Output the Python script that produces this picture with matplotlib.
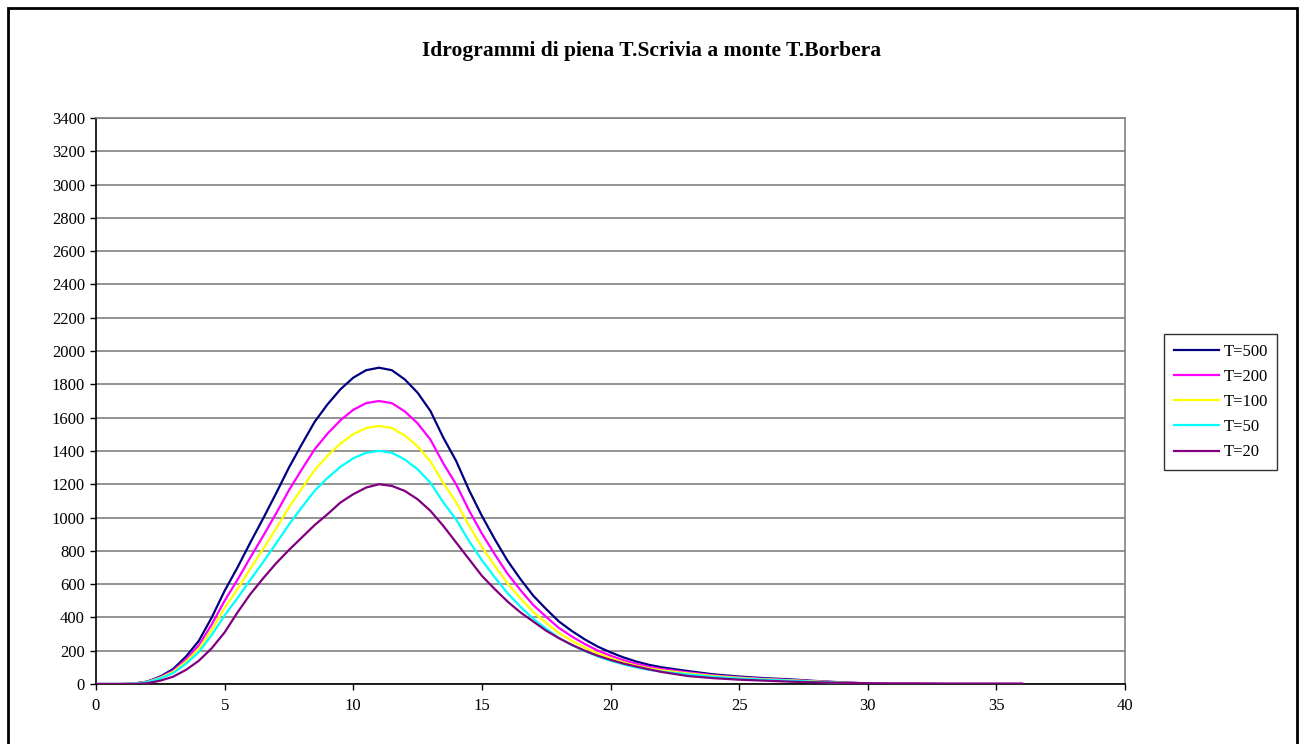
import matplotlib
matplotlib.use("Agg")
import matplotlib.pyplot as plt
from matplotlib.patches import Rectangle

# === DATI ===
# ogni mezz'ora fino a 22 h, poi ogni ora
ORE = [i / 2 for i in range(45)] + [23, 24, 25, 26, 27, 28, 29, 29.7]
ORE_T20 = [i / 2 for i in range(45)] + list(range(23, 37))

Q_T500 = [0, 0, 0, 3, 15, 45, 90, 165, 260, 400, 560, 700, 850, 995, 1145, 1300,
          1440, 1575, 1680, 1770, 1840, 1885, 1900, 1885, 1830, 1750, 1640, 1480,
          1340, 1165, 1010, 870, 740, 630, 530, 450, 375, 318, 268, 225, 190, 160,
          135, 115, 100,
          78, 58, 45, 35, 28, 18, 10, 5]
Q_T200 = [0, 0, 0, 3, 13, 40, 80, 148, 233, 358, 500, 626, 760, 890, 1024, 1164,
          1289, 1410, 1504, 1584, 1647, 1687, 1700, 1687, 1638, 1566, 1468, 1325,
          1199, 1043, 904, 779, 662, 564, 474, 403, 336, 285, 240, 201, 170, 143,
          121, 103, 90,
          70, 52, 40, 31, 24, 16, 9, 5]
Q_T100 = [0, 0, 0, 2, 12, 37, 73, 135, 212, 326, 456, 571, 693, 812, 934, 1061,
          1175, 1285, 1371, 1444, 1501, 1538, 1550, 1538, 1493, 1428, 1338, 1208,
          1093, 951, 824, 710, 604, 514, 432, 367, 306, 259, 219, 184, 155, 131,
          110, 94, 82,
          64, 48, 37, 28, 22, 15, 8, 4]
Q_T50 = [0, 0, 0, 2, 11, 33, 66, 122, 192, 295, 412, 516, 626, 733, 844, 958,
         1061, 1161, 1238, 1304, 1356, 1389, 1400, 1389, 1349, 1290, 1209, 1091,
         988, 859, 744, 641, 545, 464, 391, 332, 276, 234, 198, 166, 140, 118,
         99, 85, 74,
         58, 43, 33, 26, 20, 13, 7, 4]
Q_T20 = [0, 0, 0, 0, 5, 20, 44, 85, 140, 215, 310, 430, 540, 635, 725, 805,
         880, 955, 1020, 1090, 1140, 1180, 1200, 1190, 1160, 1110, 1040, 950,
         850, 750, 650, 570, 495, 430, 375, 320, 275, 235, 200, 170, 145, 123,
         105, 88, 72,
         48, 35, 26, 20, 14, 10, 7, 5, 4, 4, 3, 3, 3, 3]

ETICHETTE = ["T=500", "T=200", "T=100", "T=50", "T=20"]
COLORI = ["#000080", "#FF00FF", "#FFFF00", "#00FFFF", "#800080"]

plt.rcParams['font.family'] = ['Liberation Serif', 'DejaVu Serif']

# === FIGURA ===
fig = plt.figure(figsize=(13.04, 7.44), dpi=100)
ax = fig.add_axes([96 / 1304, 1 - 684 / 744, (1125 - 96) / 1304, (684 - 118) / 744])

serie = [(ORE, Q_T500), (ORE, Q_T200), (ORE, Q_T100), (ORE, Q_T50), (ORE_T20, Q_T20)]
for (x, y), nome, col in zip(serie, ETICHETTE, COLORI):
    ax.plot(x, y, color=col, lw=1.6, label=nome, zorder=3)

ax.set_xlim(0, 40)
ax.set_ylim(0, 3400)
ax.set_xticks(range(0, 41, 5))
ax.set_yticks(range(0, 3401, 200))
ax.yaxis.grid(True, color="#808080", lw=1.2)
ax.set_axisbelow(True)
ax.tick_params(axis="both", direction="out", length=4, width=1, labelsize=12)
ax.tick_params(axis="y", pad=4)
ax.tick_params(axis="x", pad=6)
for s in ["top", "right"]:
    ax.spines[s].set_color("#808080")
    ax.spines[s].set_linewidth(1.2)
for s in ["left", "bottom"]:
    ax.spines[s].set_color("black")
    ax.spines[s].set_linewidth(1.2)

fig.text(0.5, 1 - 51 / 744, "Idrogrammi di piena T.Scrivia a monte T.Borbera",
         ha="center", va="center", fontsize=15.5, fontweight="bold")

leg = ax.legend(loc="center left", bbox_to_anchor=(1156 / 1304, 1 - 402 / 744),
                bbox_transform=fig.transFigure, frameon=True, fancybox=False,
                edgecolor="black", fontsize=12, handlelength=2.7,
                labelspacing=0.55, borderpad=0.55, handletextpad=0.3)
leg.get_frame().set_linewidth(1.0)

# bordo esterno
fig.patches.append(Rectangle((8 / 1304, -0.01), (1297 - 8) / 1304, 1 - 8 / 744 + 0.01,
                             transform=fig.transFigure, fill=False,
                             edgecolor="black", lw=2))

fig.savefig("out.png", dpi=100)
